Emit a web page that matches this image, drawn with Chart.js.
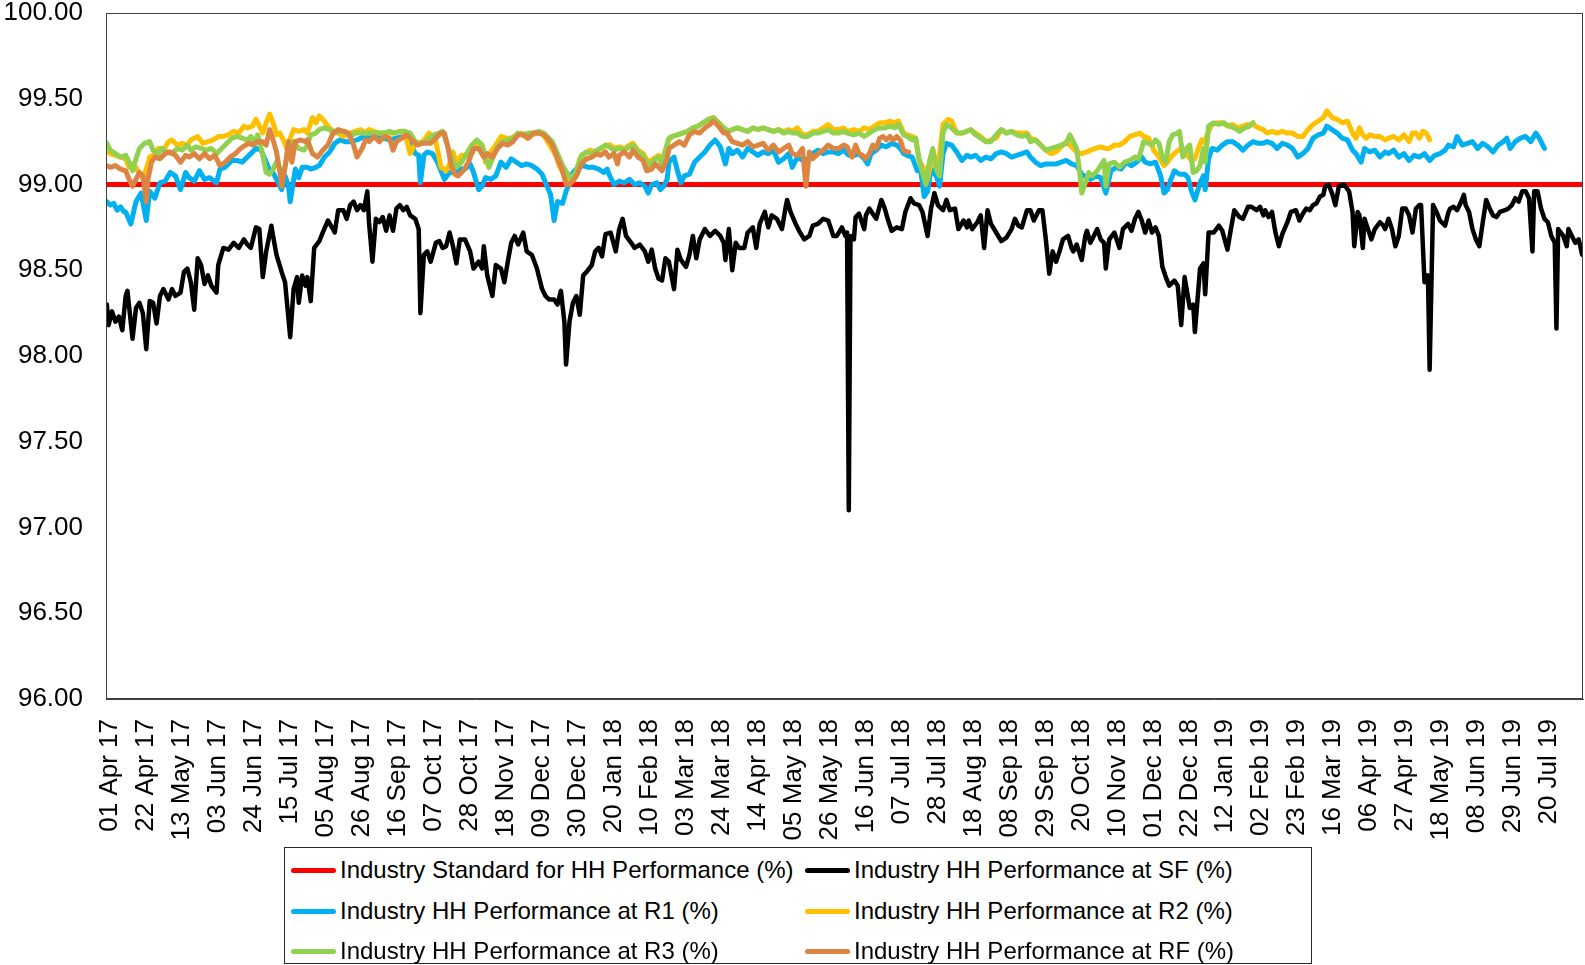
<!DOCTYPE html>
<html>
<head>
<meta charset="utf-8">
<title>Industry HH Performance</title>
<script src="https://cdn.jsdelivr.net/npm/chart.js@4.4.1/dist/chart.umd.min.js"></script>
<style>
    html, body { margin: 0; padding: 0; background: #ffffff; }
    #wrap { position: relative; width: 1585px; height: 965px; overflow: hidden; }
    #perfChart { position: absolute; left: 0; top: 0; }
    #legend {
        position: absolute; left: 284px; top: 847px; width: 1026px; height: 115px;
        border: 1px solid #262626; background: #ffffff;
        font-family: "Liberation Sans", Arial, sans-serif; font-size: 24px; color: #000000;
    }
    #legend .item { position: absolute; display: flex; align-items: center; white-space: nowrap; height: 30px; }
    #legend .swatch { display: inline-block; width: 45px; height: 5px; border-radius: 3px; margin-right: 4px; }
</style>
</head>
<body>
<div id="wrap">
    <canvas id="perfChart" width="1585" height="965"></canvas>
    <div id="legend"></div>
</div>
<script>
// =========================================================================
// 1. DATA  (x = day number counted from 01 Apr 17, y = performance %)
// =========================================================================
const tickLabels = [
    '01 Apr 17', '22 Apr 17', '13 May 17', '03 Jun 17', '24 Jun 17', '15 Jul 17', '05 Aug 17',
    '26 Aug 17', '16 Sep 17', '07 Oct 17', '28 Oct 17', '18 Nov 17', '09 Dec 17', '30 Dec 17',
    '20 Jan 18', '10 Feb 18', '03 Mar 18', '24 Mar 18', '14 Apr 18', '05 May 18', '26 May 18',
    '16 Jun 18', '07 Jul 18', '28 Jul 18', '18 Aug 18', '08 Sep 18', '29 Sep 18', '20 Oct 18',
    '10 Nov 18', '01 Dec 18', '22 Dec 18', '12 Jan 19', '02 Feb 19', '23 Feb 19', '16 Mar 19',
    '06 Apr 19', '27 Apr 19', '18 May 19', '08 Jun 19', '29 Jun 19', '20 Jul 19'
];
const tickStepDays = 21;
const lastDay = 861;

const standardPoints = [[0, 99.0], [861, 99.0]];

const sfPoints = [
    [0,98.30],[1,98.18],[3,98.26],[5,98.20],[7,98.23],[9,98.15],[11,98.35],[12,98.38],[15,98.10],[17,98.28],
    [19,98.31],[21,98.25],[23,98.04],[25,98.32],[27,98.31],[29,98.19],[31,98.35],[33,98.39],[36,98.33],[38,98.39],
    [40,98.35],[43,98.37],[45,98.49],[47,98.51],[49,98.43],[51,98.27],[53,98.57],[55,98.53],[57,98.42],[59,98.47],
    [61,98.41],[64,98.37],[65,98.53],[68,98.63],[71,98.62],[74,98.66],[77,98.63],[80,98.68],[82,98.65],[84,98.63],
    [87,98.75],[89,98.74],[91,98.46],[93,98.61],[96,98.76],[97,98.70],[99,98.59],[102,98.49],[104,98.43],[107,98.11],
    [109,98.39],[111,98.46],[112,98.31],[114,98.47],[116,98.41],[117,98.46],[119,98.32],[121,98.63],[124,98.67],[126,98.72],
    [129,98.79],[132,98.74],[133,98.72],[135,98.85],[138,98.85],[140,98.80],[142,98.88],[144,98.90],[146,98.85],[148,98.88],
    [150,98.85],[152,98.96],[153,98.78],[155,98.55],[157,98.80],[159,98.78],[161,98.81],[163,98.73],[165,98.82],[167,98.73],
    [169,98.86],[171,98.88],[173,98.85],[175,98.87],[177,98.82],[180,98.80],[182,98.74],[183,98.25],[185,98.59],[187,98.61],
    [189,98.55],[192,98.66],[194,98.67],[196,98.63],[198,98.64],[200,98.72],[202,98.64],[204,98.54],[206,98.68],[209,98.68],
    [212,98.61],[214,98.51],[217,98.55],[219,98.51],[220,98.64],[222,98.47],[225,98.35],[227,98.53],[230,98.51],[232,98.43],
    [234,98.55],[236,98.66],[238,98.70],[240,98.65],[243,98.72],[245,98.61],[248,98.59],[251,98.51],[254,98.39],[256,98.35],
    [258,98.33],[261,98.33],[263,98.30],[265,98.38],[267,98.20],[268,97.95],[270,98.20],[272,98.31],[274,98.35],[276,98.24],
    [278,98.47],[280,98.49],[283,98.53],[285,98.61],[287,98.63],[289,98.58],[291,98.71],[294,98.72],[297,98.61],[299,98.74],
    [301,98.80],[303,98.70],[306,98.66],[308,98.63],[311,98.65],[314,98.61],[316,98.55],[318,98.62],[320,98.51],[322,98.45],
    [324,98.44],[326,98.57],[328,98.55],[331,98.39],[333,98.62],[335,98.56],[338,98.52],[340,98.59],[342,98.70],[344,98.57],
    [346,98.68],[349,98.74],[352,98.70],[355,98.73],[358,98.70],[360,98.66],[361,98.56],[363,98.74],[365,98.50],[367,98.66],
    [369,98.63],[372,98.63],[374,98.72],[377,98.75],[379,98.63],[381,98.77],[384,98.84],[386,98.75],[388,98.82],[391,98.80],
    [394,98.74],[396,98.86],[397,98.91],[399,98.84],[402,98.77],[404,98.73],[407,98.68],[410,98.70],[412,98.76],[415,98.77],
    [418,98.80],[421,98.79],[424,98.70],[426,98.70],[429,98.75],[431,98.70],[432,98.72],[433,97.10],[434,98.70],[436,98.68],
    [437,98.81],[439,98.83],[442,98.74],[443,98.82],[445,98.86],[447,98.83],[449,98.80],[452,98.91],[454,98.86],[456,98.79],
    [458,98.73],[461,98.75],[464,98.74],[466,98.84],[469,98.92],[471,98.89],[474,98.88],[476,98.84],[479,98.70],[481,98.86],
    [483,98.95],[485,98.88],[488,98.85],[490,98.91],[492,98.85],[495,98.86],[497,98.74],[500,98.79],[502,98.75],[503,98.79],
    [505,98.74],[508,98.78],[510,98.82],[512,98.63],[514,98.85],[516,98.77],[519,98.72],[522,98.67],[525,98.69],[528,98.74],
    [530,98.80],[532,98.76],[534,98.75],[537,98.85],[539,98.85],[541,98.79],[544,98.85],[546,98.85],[548,98.68],[550,98.48],
    [552,98.61],[554,98.55],[556,98.61],[558,98.68],[561,98.70],[563,98.63],[564,98.61],[566,98.65],[569,98.56],[571,98.70],
    [572,98.73],[574,98.66],[576,98.70],[578,98.74],[580,98.68],[582,98.66],[583,98.51],[585,98.68],[588,98.72],[591,98.63],
    [593,98.74],[596,98.77],[598,98.73],[600,98.80],[602,98.84],[604,98.79],[606,98.72],[608,98.79],[610,98.72],[612,98.75],
    [614,98.70],[616,98.52],[618,98.46],[620,98.41],[623,98.44],[625,98.41],[627,98.18],[629,98.46],[632,98.28],[634,98.30],
    [635,98.14],[638,98.51],[640,98.54],[641,98.36],[643,98.72],[646,98.72],[649,98.76],[651,98.73],[654,98.62],[656,98.74],
    [658,98.85],[661,98.81],[663,98.80],[666,98.87],[668,98.87],[671,98.85],[673,98.87],[675,98.82],[676,98.85],[678,98.81],
    [680,98.84],[682,98.72],[684,98.64],[686,98.71],[689,98.78],[691,98.84],[694,98.85],[696,98.79],[698,98.83],[700,98.86],
    [702,98.85],[704,98.88],[706,98.89],[708,98.93],[710,98.94],[711,98.99],[713,99.00],[715,98.95],[717,98.88],[719,98.99],
    [722,99.00],[725,98.96],[727,98.84],[728,98.64],[730,98.84],[731,98.82],[733,98.63],[734,98.80],[736,98.74],[738,98.68],
    [740,98.74],[743,98.78],[745,98.76],[746,98.74],[748,98.80],[750,98.74],[752,98.64],[754,98.70],[756,98.86],[758,98.86],
    [760,98.82],[762,98.72],[764,98.86],[766,98.88],[767,98.88],[769,98.43],[771,98.47],[772,97.92],[774,98.88],[776,98.84],
    [778,98.79],[781,98.76],[783,98.84],[784,98.86],[786,98.87],[788,98.85],[790,98.89],[792,98.94],[793,98.88],[795,98.84],
    [797,98.74],[799,98.68],[801,98.64],[803,98.78],[805,98.91],[807,98.86],[809,98.82],[811,98.81],[813,98.84],[816,98.85],
    [818,98.86],[820,98.88],[822,98.92],[824,98.90],[826,98.96],[828,98.96],[830,98.92],[832,98.61],[833,98.96],[835,98.96],
    [837,98.86],[839,98.80],[841,98.78],[843,98.70],[845,98.66],[846,98.16],[847,98.74],[850,98.70],[852,98.64],[853,98.74],
    [855,98.70],[857,98.66],[859,98.68],[861,98.59]
];

const r1Points = [
    [0,98.90],[2,98.88],[4,98.89],[6,98.85],[8,98.87],[10,98.84],[11,98.84],[14,98.77],[17,98.90],[20,98.95],
    [23,98.79],[25,98.96],[28,98.92],[31,99.01],[34,99.02],[37,99.07],[40,99.05],[43,98.97],[46,99.07],[48,99.04],
    [51,99.02],[54,99.08],[57,99.03],[60,99.04],[64,99.01],[66,99.09],[69,99.10],[73,99.14],[76,99.14],[79,99.13],
    [82,99.16],[84,99.18],[87,99.21],[90,99.20],[93,99.13],[95,99.08],[97,99.07],[99,99.03],[102,98.97],[104,99.05],
    [106,98.99],[107,98.90],[110,99.09],[112,99.04],[114,99.10],[117,99.10],[119,99.09],[122,99.10],[124,99.11],[127,99.16],
    [130,99.19],[133,99.24],[136,99.26],[139,99.25],[142,99.25],[146,99.26],[150,99.28],[153,99.27],[157,99.28],[161,99.27],
    [165,99.26],[169,99.27],[173,99.28],[177,99.25],[180,99.18],[182,99.17],[183,99.01],[185,99.17],[187,99.19],[190,99.18],
    [193,99.13],[195,99.08],[197,99.03],[200,99.07],[203,99.07],[206,99.09],[209,99.09],[212,99.12],[214,99.07],[217,98.97],
    [219,98.99],[221,99.04],[224,99.03],[227,99.05],[230,99.13],[233,99.10],[236,99.15],[239,99.13],[242,99.11],[245,99.12],
    [248,99.11],[251,99.09],[254,99.06],[256,99.01],[259,98.94],[261,98.79],[263,98.90],[266,98.89],[268,98.96],[270,99.01],
    [272,99.07],[275,99.10],[278,99.11],[281,99.10],[284,99.10],[287,99.09],[290,99.07],[292,99.09],[293,99.06],[296,99.00],
    [299,99.02],[302,99.01],[305,99.03],[308,99.00],[311,99.01],[314,98.99],[316,98.95],[318,99.00],[321,99.01],[323,98.97],
    [325,98.99],[327,99.03],[328,99.13],[331,99.16],[333,99.08],[335,99.01],[337,99.05],[340,99.06],[343,99.13],[346,99.16],
    [349,99.19],[352,99.23],[355,99.26],[358,99.22],[361,99.12],[363,99.21],[365,99.18],[368,99.20],[371,99.16],[374,99.21],
    [377,99.19],[380,99.17],[383,99.19],[386,99.18],[389,99.20],[392,99.13],[395,99.15],[398,99.18],[400,99.10],[403,99.16],
    [406,99.14],[409,99.15],[412,99.18],[415,99.20],[418,99.18],[421,99.19],[424,99.19],[427,99.18],[430,99.20],[433,99.17],
    [436,99.17],[439,99.18],[442,99.15],[444,99.12],[446,99.18],[449,99.20],[452,99.23],[455,99.22],[458,99.24],[461,99.23],
    [463,99.21],[465,99.18],[467,99.17],[470,99.16],[473,99.08],[475,99.08],[477,98.93],[479,98.96],[481,99.09],[484,99.05],
    [486,98.99],[488,99.18],[490,99.24],[493,99.23],[496,99.19],[499,99.14],[502,99.17],[504,99.16],[507,99.17],[510,99.14],
    [513,99.16],[516,99.15],[519,99.18],[522,99.19],[525,99.18],[528,99.16],[531,99.17],[534,99.18],[537,99.19],[539,99.16],
    [542,99.13],[545,99.11],[548,99.12],[551,99.12],[554,99.12],[557,99.13],[560,99.14],[563,99.12],[566,99.11],[569,99.06],
    [572,99.04],[574,99.03],[577,99.05],[580,99.04],[583,98.95],[586,99.08],[589,99.10],[592,99.09],[595,99.13],[598,99.11],
    [601,99.13],[604,99.16],[606,99.13],[609,99.12],[612,99.13],[615,99.05],[617,98.95],[619,98.97],[621,99.03],[623,99.08],
    [626,99.06],[629,99.06],[631,99.04],[633,98.96],[635,98.91],[638,99.01],[640,99.05],[641,98.97],[643,99.15],[645,99.21],
    [648,99.20],[651,99.23],[654,99.25],[657,99.25],[660,99.23],[663,99.20],[666,99.23],[669,99.25],[672,99.24],[675,99.24],
    [677,99.25],[680,99.24],[683,99.21],[686,99.24],[689,99.23],[692,99.21],[695,99.16],[698,99.18],[701,99.21],[704,99.27],
    [707,99.29],[710,99.30],[712,99.34],[715,99.32],[718,99.30],[721,99.27],[724,99.26],[727,99.20],[729,99.18],[732,99.13],
    [734,99.21],[737,99.19],[740,99.20],[743,99.16],[746,99.19],[748,99.18],[751,99.20],[754,99.16],[757,99.18],[760,99.14],
    [763,99.17],[766,99.16],[769,99.18],[772,99.14],[775,99.17],[778,99.18],[781,99.20],[783,99.23],[786,99.22],[788,99.28],
    [791,99.23],[794,99.24],[797,99.25],[800,99.21],[803,99.24],[806,99.22],[809,99.19],[812,99.23],[815,99.25],[817,99.27],
    [819,99.21],[822,99.25],[825,99.27],[828,99.28],[831,99.25],[834,99.30],[836,99.27],[839,99.21]
];

const r2Points = [
    [0,99.20],[2,99.18],[5,99.17],[8,99.16],[11,99.15],[13,99.10],[15,99.12],[17,99.10],[19,99.06],[21,99.04],
    [23,99.09],[25,99.16],[27,99.17],[30,99.21],[33,99.20],[36,99.25],[38,99.26],[41,99.23],[44,99.24],[47,99.23],
    [49,99.26],[53,99.28],[56,99.24],[59,99.25],[62,99.26],[65,99.28],[68,99.28],[71,99.29],[74,99.31],[77,99.30],
    [80,99.34],[82,99.33],[85,99.34],[87,99.38],[89,99.34],[91,99.30],[93,99.36],[95,99.41],[97,99.36],[99,99.29],
    [101,99.30],[103,99.26],[105,99.21],[107,99.27],[109,99.32],[112,99.31],[115,99.32],[117,99.30],[120,99.39],[122,99.36],
    [124,99.40],[126,99.38],[129,99.34],[132,99.31],[135,99.30],[138,99.28],[142,99.30],[145,99.31],[148,99.32],[151,99.30],
    [153,99.32],[156,99.31],[159,99.30],[162,99.30],[165,99.30],[168,99.30],[171,99.31],[174,99.30],[177,99.18],[180,99.24],
    [183,99.24],[186,99.27],[188,99.30],[190,99.28],[192,99.25],[195,99.10],[198,99.08],[200,99.12],[202,99.19],[204,99.13],
    [207,99.17],[210,99.17],[213,99.18],[216,99.24],[219,99.21],[221,99.13],[224,99.19],[227,99.23],[230,99.28],[233,99.27],
    [236,99.27],[239,99.29],[242,99.30],[245,99.27],[248,99.29],[251,99.30],[254,99.30],[256,99.27],[259,99.22],[262,99.17],
    [264,99.11],[267,99.05],[270,99.03],[273,99.04],[276,99.15],[279,99.18],[282,99.20],[285,99.19],[288,99.21],[290,99.22],
    [292,99.23],[294,99.23],[296,99.21],[299,99.22],[302,99.21],[305,99.23],[307,99.24],[310,99.20],[313,99.18],[316,99.13],
    [319,99.15],[322,99.17],[324,99.14],[326,99.20],[328,99.26],[330,99.28],[333,99.29],[336,99.30],[339,99.31],[342,99.33],
    [345,99.34],[348,99.36],[351,99.38],[354,99.39],[357,99.36],[360,99.33],[362,99.31],[365,99.32],[368,99.33],[371,99.32],
    [374,99.31],[377,99.33],[380,99.32],[383,99.33],[386,99.32],[389,99.31],[392,99.32],[395,99.31],[398,99.32],[400,99.31],
    [403,99.33],[406,99.29],[409,99.29],[412,99.31],[415,99.31],[418,99.33],[421,99.35],[424,99.32],[427,99.32],[430,99.33],
    [432,99.31],[436,99.32],[439,99.31],[442,99.33],[445,99.32],[448,99.34],[451,99.36],[454,99.36],[457,99.37],[460,99.36],
    [462,99.37],[465,99.30],[467,99.29],[470,99.28],[472,99.27],[474,99.14],[477,99.09],[479,99.03],[481,99.13],[482,99.20],
    [484,99.11],[486,99.18],[488,99.35],[491,99.38],[493,99.37],[496,99.30],[499,99.30],[502,99.31],[504,99.32],[507,99.30],
    [510,99.28],[513,99.25],[516,99.26],[519,99.27],[522,99.32],[525,99.30],[528,99.31],[531,99.30],[534,99.30],[537,99.30],
    [539,99.27],[542,99.26],[545,99.23],[548,99.20],[551,99.18],[554,99.19],[557,99.22],[560,99.25],[563,99.22],[566,99.19],
    [569,99.18],[572,99.19],[574,99.20],[577,99.21],[580,99.22],[583,99.21],[585,99.21],[588,99.23],[591,99.23],[594,99.25],
    [597,99.28],[600,99.29],[603,99.30],[605,99.28],[608,99.27],[611,99.20],[614,99.16],[617,99.11],[619,99.13],[621,99.16],
    [624,99.19],[627,99.21],[630,99.18],[633,99.14],[635,99.15],[637,99.21],[639,99.26],[641,99.24],[642,99.29],[645,99.35],
    [648,99.36],[651,99.36],[654,99.34],[657,99.35],[660,99.33],[663,99.34],[666,99.35],[669,99.35],[672,99.33],[675,99.32],
    [677,99.30],[680,99.31],[683,99.30],[686,99.31],[689,99.30],[692,99.30],[695,99.28],[698,99.28],[701,99.32],[704,99.35],
    [707,99.37],[710,99.39],[712,99.43],[715,99.39],[718,99.38],[721,99.36],[724,99.37],[727,99.30],[729,99.27],[731,99.33],
    [733,99.29],[735,99.27],[737,99.29],[740,99.28],[743,99.28],[746,99.26],[748,99.27],[751,99.28],[754,99.26],[757,99.29],
    [760,99.25],[762,99.30],[764,99.30],[766,99.27],[768,99.31],[770,99.30],[772,99.26]
];

const r3Points = [
    [0,99.24],[2,99.20],[5,99.18],[8,99.16],[11,99.17],[13,99.13],[15,99.08],[17,99.15],[19,99.21],[22,99.24],
    [25,99.25],[27,99.20],[30,99.18],[32,99.21],[35,99.19],[38,99.18],[41,99.21],[44,99.20],[47,99.23],[49,99.20],
    [52,99.22],[55,99.21],[58,99.20],[61,99.21],[64,99.18],[67,99.21],[70,99.24],[73,99.27],[76,99.28],[79,99.27],
    [82,99.26],[84,99.28],[86,99.24],[88,99.29],[91,99.17],[93,99.07],[95,99.06],[97,99.09],[99,99.13],[101,99.09],
    [103,99.07],[105,99.15],[107,99.21],[109,99.25],[112,99.21],[115,99.20],[117,99.23],[119,99.29],[122,99.30],[124,99.32],
    [127,99.33],[130,99.32],[133,99.30],[136,99.31],[139,99.31],[142,99.28],[145,99.30],[148,99.30],[151,99.30],[153,99.30],
    [156,99.30],[159,99.30],[162,99.30],[165,99.31],[168,99.30],[171,99.31],[174,99.31],[177,99.30],[180,99.25],[183,99.24],
    [186,99.25],[188,99.27],[191,99.29],[194,99.30],[196,99.31],[198,99.25],[201,99.16],[204,99.10],[207,99.13],[210,99.18],
    [213,99.23],[216,99.26],[219,99.23],[221,99.16],[223,99.10],[225,99.15],[228,99.22],[231,99.25],[234,99.26],[237,99.27],
    [240,99.30],[243,99.29],[246,99.30],[249,99.30],[252,99.31],[255,99.30],[257,99.28],[260,99.25],[263,99.18],[266,99.11],
    [269,99.06],[271,99.03],[274,99.08],[277,99.17],[280,99.19],[283,99.18],[286,99.20],[288,99.21],[291,99.23],[293,99.22],
    [296,99.20],[299,99.21],[302,99.20],[305,99.22],[307,99.23],[310,99.19],[313,99.17],[316,99.11],[319,99.14],[322,99.16],
    [324,99.11],[326,99.20],[328,99.27],[330,99.28],[333,99.29],[336,99.30],[339,99.31],[342,99.33],[345,99.34],[348,99.36],
    [351,99.38],[354,99.39],[357,99.36],[360,99.33],[363,99.31],[365,99.32],[368,99.33],[371,99.32],[374,99.31],[377,99.33],
    [380,99.32],[383,99.33],[386,99.32],[389,99.31],[392,99.32],[395,99.30],[398,99.31],[400,99.30],[403,99.30],[406,99.28],
    [409,99.28],[412,99.30],[415,99.30],[418,99.31],[421,99.32],[424,99.30],[427,99.30],[430,99.31],[432,99.30],[436,99.29],
    [439,99.30],[442,99.28],[445,99.30],[448,99.32],[451,99.33],[454,99.33],[457,99.34],[460,99.33],[462,99.35],[465,99.29],
    [467,99.28],[470,99.26],[472,99.27],[474,99.15],[476,99.07],[478,99.00],[480,99.13],[482,99.21],[484,99.09],[486,99.05],
    [488,99.30],[490,99.35],[493,99.33],[496,99.30],[499,99.30],[502,99.31],[504,99.32],[507,99.29],[510,99.27],[513,99.25],
    [516,99.25],[519,99.29],[522,99.32],[525,99.30],[528,99.31],[531,99.29],[534,99.28],[537,99.29],[539,99.25],[542,99.26],
    [545,99.23],[548,99.20],[551,99.21],[554,99.22],[557,99.23],[560,99.24],[562,99.29],[564,99.25],[566,99.21],[568,99.05],
    [569,98.95],[571,99.01],[573,99.07],[575,99.05],[578,99.08],[580,99.11],[582,99.14],[583,98.99],[585,99.12],[588,99.13],
    [591,99.10],[594,99.13],[597,99.14],[600,99.16],[602,99.15],[604,99.21],[605,99.25],[608,99.24],[610,99.23],[612,99.26],
    [614,99.24],[616,99.16],[618,99.13],[620,99.25],[622,99.29],[625,99.30],[626,99.31],[628,99.16],[630,99.21],[632,99.23],
    [634,99.07],[636,99.08],[638,99.11],[640,99.21],[641,99.13],[643,99.34],[646,99.36],[649,99.35],[652,99.36],[655,99.34],
    [658,99.33],[661,99.31],[664,99.33],[667,99.34],[669,99.36]
];

const rfPoints = [
    [0,99.11],[2,99.10],[5,99.11],[8,99.09],[11,99.08],[13,99.03],[15,98.99],[17,99.03],[19,99.07],[21,99.05],
    [23,98.90],[24,99.03],[26,99.13],[28,99.16],[31,99.15],[34,99.18],[37,99.19],[40,99.17],[43,99.13],[46,99.17],
    [48,99.16],[51,99.18],[54,99.15],[57,99.18],[60,99.15],[63,99.17],[66,99.11],[69,99.13],[72,99.16],[75,99.18],
    [78,99.21],[81,99.23],[83,99.24],[85,99.23],[88,99.25],[91,99.25],[93,99.23],[95,99.32],[97,99.26],[99,99.19],
    [101,99.07],[102,98.99],[104,99.10],[106,99.25],[108,99.13],[110,99.25],[113,99.26],[116,99.25],[117,99.26],[120,99.18],
    [123,99.16],[126,99.20],[129,99.23],[132,99.30],[135,99.32],[138,99.31],[141,99.30],[144,99.23],[146,99.16],[149,99.21],
    [151,99.26],[153,99.25],[156,99.28],[159,99.25],[162,99.28],[165,99.27],[167,99.20],[169,99.25],[172,99.27],[175,99.29],
    [178,99.26],[181,99.23],[184,99.24],[186,99.24],[189,99.24],[192,99.27],[195,99.30],[197,99.30],[199,99.22],[201,99.11],
    [203,99.06],[205,99.05],[208,99.08],[211,99.13],[214,99.21],[217,99.21],[220,99.16],[222,99.18],[225,99.16],[228,99.21],
    [231,99.24],[234,99.23],[237,99.25],[240,99.29],[243,99.29],[246,99.27],[249,99.30],[252,99.30],[255,99.29],[257,99.27],
    [260,99.23],[263,99.15],[266,99.08],[268,99.00],[270,99.00],[272,99.02],[274,99.05],[277,99.12],[280,99.15],[283,99.16],
    [286,99.18],[288,99.17],[291,99.19],[293,99.16],[296,99.18],[298,99.12],[299,99.17],[302,99.19],[305,99.16],[307,99.20],
    [310,99.16],[313,99.14],[315,99.08],[318,99.09],[320,99.12],[322,99.10],[324,99.08],[327,99.15],[328,99.21],[331,99.23],
    [334,99.25],[337,99.23],[340,99.29],[343,99.31],[346,99.30],[349,99.33],[352,99.35],[354,99.37],[357,99.34],[360,99.30],
    [362,99.30],[363,99.28],[365,99.25],[368,99.24],[371,99.23],[374,99.25],[377,99.22],[380,99.23],[383,99.24],[386,99.20],
    [389,99.23],[392,99.19],[395,99.21],[398,99.23],[400,99.18],[403,99.17],[406,99.21],[408,98.99],[410,99.19],[412,99.15],
    [415,99.18],[418,99.20],[421,99.23],[424,99.21],[427,99.21],[430,99.23],[432,99.22],[435,99.16],[437,99.23],[439,99.18],
    [441,99.17],[443,99.15],[445,99.18],[447,99.23],[449,99.21],[451,99.27],[453,99.28],[455,99.26],[457,99.28],[459,99.26],
    [461,99.28],[463,99.26],[465,99.20],[467,99.19],[468,99.19]
];

const seriesNames = [
    'Industry Standard for HH Performance (%)', 'Industry HH Performance at SF (%)',
    'Industry HH Performance at R1 (%)', 'Industry HH Performance at R2 (%)',
    'Industry HH Performance at R3 (%)', 'Industry HH Performance at RF (%)'
];
const seriesColors = ['#FF0000', '#000000', '#00B0F0', '#FFC000', '#92D050', '#DC8542'];

// =========================================================================
// 2. CHART
// =========================================================================
document.addEventListener("DOMContentLoaded", function () {

    const allPoints = [standardPoints, sfPoints, r1Points, r2Points, r3Points, rfPoints];
    const fontFamily = '"Liberation Sans", Arial, sans-serif';

    // Excel draws the first series underneath, so give later series a lower order
    const datasets = allPoints.map((pts, i) => ({
        label: seriesNames[i],
        data: pts.map(p => ({ x: p[0], y: p[1] })),
        borderColor: seriesColors[i],
        backgroundColor: seriesColors[i],
        borderWidth: i === 1 ? 4.5 : 5,
        pointRadius: 0,
        tension: 0,
        borderJoinStyle: 'round',
        borderCapStyle: 'round',
        order: allPoints.length - i
    }));

    // thin frame round the plot area
    const plotFrame = {
        id: 'plotFrame',
        afterDraw(chart) {
            const { ctx, chartArea } = chart;
            ctx.save();
            ctx.strokeStyle = '#404040';
            ctx.lineWidth = 1;
            ctx.strokeRect(chartArea.left + 0.5, chartArea.top + 0.5,
                chartArea.right - chartArea.left - 1, chartArea.bottom - chartArea.top - 1);
            ctx.restore();
        }
    };

    const ctx = document.getElementById('perfChart').getContext('2d');
    new Chart(ctx, {
        type: 'line',
        data: { datasets: datasets },
        plugins: [plotFrame],
        options: {
            responsive: false,
            animation: false,
            devicePixelRatio: 1,
            layout: { padding: { top: 13, right: 2, left: 0, bottom: 0 } },
            plugins: { legend: { display: false }, tooltip: { enabled: false } },
            scales: {
                x: {
                    type: 'linear',
                    min: -0.5,
                    max: lastDay + 0.5,
                    afterBuildTicks: (axis) => {
                        axis.ticks = tickLabels.map((_, i) => ({ value: i * tickStepDays }));
                    },
                    afterFit: (axis) => {
                        axis.height = 266;
                        axis.paddingLeft = 0;
                        axis.paddingRight = 0;
                    },
                    grid: { display: false, drawTicks: false },
                    border: { display: true, color: '#404040', width: 1 },
                    ticks: {
                        autoSkip: false,
                        minRotation: 90,
                        maxRotation: 90,
                        padding: 20,
                        labelOffset: 3,
                        color: '#000000',
                        font: { family: fontFamily, size: 26 },
                        callback: (value, index) => tickLabels[index]
                    }
                },
                y: {
                    min: 96,
                    max: 100,
                    afterFit: (axis) => {
                        axis.width = 106;
                        axis.paddingTop = 0;
                        axis.paddingBottom = 0;
                    },
                    grid: { display: false, drawTicks: false },
                    border: { display: true, color: '#404040', width: 1 },
                    ticks: {
                        stepSize: 0.5,
                        padding: 23,
                        color: '#000000',
                        font: { family: fontFamily, size: 26 },
                        callback: (value) => Number(value).toFixed(2)
                    }
                }
            }
        }
    });

    // --- LEGEND (two columns, boxed, like the source) ---
    const legend = document.getElementById('legend');
    const colX = [6, 520];
    const rowY = [7, 48, 88];
    seriesNames.forEach((name, i) => {
        const item = document.createElement('div');
        item.className = 'item';
        item.style.left = colX[i % 2] + 'px';
        item.style.top = rowY[Math.floor(i / 2)] + 'px';
        const swatch = document.createElement('span');
        swatch.className = 'swatch';
        swatch.style.background = seriesColors[i];
        item.appendChild(swatch);
        item.appendChild(document.createTextNode(name));
        legend.appendChild(item);
    });
});
</script>
</body>
</html>
